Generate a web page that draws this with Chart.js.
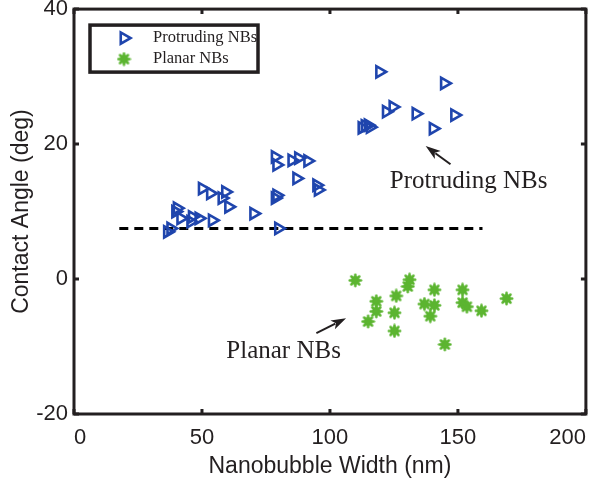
<!DOCTYPE html>
<html><head><meta charset="utf-8">
<script src="https://cdn.jsdelivr.net/npm/chart.js@4.4.0/dist/chart.umd.min.js"></script>
<style>html,body{margin:0;padding:0;background:#fff;}#wrap{width:595px;height:480px;position:relative;}</style>
</head><body><div id="wrap"><canvas id="c" width="595" height="480"></canvas></div>
<script>
// ---- data ----
const protrudingWidth = [36.5, 37.8, 39.7, 40.3, 41.7, 45.6, 46.2, 48.8, 54.0, 50.1, 53.3, 59.2, 57.8, 60.4, 70.2, 79.9, 79.2, 78.6, 79.2, 78.6, 85.1, 87.7, 91.3, 87.0, 94.8, 95.4, 119.4, 144.7, 124.6, 122.0, 133.6, 148.7, 140.3, 112.5, 113.7, 114.9, 115.7];
const protrudingAngle = [7.0, 7.5, 10.0, 10.5, 9.0, 8.5, 9.2, 9.0, 8.7, 13.4, 12.7, 12.9, 12.0, 10.7, 9.7, 7.5, 12.4, 12.0, 16.9, 18.1, 17.6, 17.9, 17.5, 14.9, 13.9, 13.2, 30.7, 29.0, 25.5, 24.8, 24.5, 24.3, 22.3, 22.4, 22.7, 22.8, 22.5];
const planarWidth = [109.9, 131.1, 130.4, 140.8, 151.8, 125.9, 118.1, 118.1, 125.2, 136.9, 140.8, 151.8, 153.5, 159.2, 169.0, 139.2, 114.9, 125.2, 144.9];
const planarAngle = [-0.2, -0.1, -1.1, -1.6, -1.6, -2.5, -3.3, -4.8, -5.0, -3.7, -3.9, -3.5, -4.1, -4.7, -2.9, -5.5, -6.3, -7.7, -9.7];
const thresholdWidth = [17.7, 159.6];
const thresholdAngle = [7.5, 7.5];
const xTicks = [0, 50, 100, 150, 200];
const yTicks = [-20, 0, 20, 40];
const seriesNames = ['Protruding NBs', 'Planar NBs'];
const xTitle = 'Nanobubble Width (nm)';
const yTitle = 'Contact Angle (deg)';
// annotation anchors in data units: [label, textX, textY, arrowTailX, arrowTailY, arrowTipX, arrowTipY]
const annoProtruding = ['Protruding NBs', 123.4, 14.4, 147.1, 17.0, 137.4, 19.7];
const annoPlanar = ['Planar NBs', 59.5, -10.8, 94.7, -8.0, 106.3, -5.8];

// ---- styles ----
const BLUE = '#1f45ad';
const GREEN = '#5cb531';
const INK = '#231f20';

function makeStar() {
  const c = document.createElement('canvas');
  c.width = 15; c.height = 15;
  const g = c.getContext('2d');
  g.fillStyle = GREEN; g.strokeStyle = GREEN;
  g.beginPath(); g.arc(7.5, 7.5, 4.4, 0, Math.PI * 2); g.fill();
  g.lineWidth = 2.6; g.lineCap = 'round';
  for (let k = 0; k < 4; k++) {
    const a = k * Math.PI / 4;
    g.beginPath();
    g.moveTo(7.5 - 5.6 * Math.cos(a), 7.5 - 5.6 * Math.sin(a));
    g.lineTo(7.5 + 5.6 * Math.cos(a), 7.5 + 5.6 * Math.sin(a));
    g.stroke();
  }
  return c;
}
const starImg = makeStar();

const toXY = (xs, ys) => xs.map((v, i) => ({x: v, y: ys[i]}));

function arrow(ctx, x0, y0, x1, y1) {
  const ang = Math.atan2(y1 - y0, x1 - x0);
  const hl = 15, hw = 5;
  ctx.strokeStyle = INK; ctx.fillStyle = INK; ctx.lineWidth = 2;
  ctx.beginPath();
  ctx.moveTo(x0, y0);
  ctx.lineTo(x1 - Math.cos(ang) * hl * 0.8, y1 - Math.sin(ang) * hl * 0.8);
  ctx.stroke();
  ctx.beginPath();
  ctx.moveTo(x1, y1);
  ctx.lineTo(x1 - Math.cos(ang) * hl - Math.sin(ang) * hw, y1 - Math.sin(ang) * hl + Math.cos(ang) * hw);
  ctx.lineTo(x1 - Math.cos(ang) * hl * 0.75, y1 - Math.sin(ang) * hl * 0.75);
  ctx.lineTo(x1 - Math.cos(ang) * hl + Math.sin(ang) * hw, y1 - Math.sin(ang) * hl - Math.cos(ang) * hw);
  ctx.closePath();
  ctx.fill();
}

const decor = {
  id: 'decor',
  afterDraw(chart) {
    const {ctx, chartArea: a, scales: {x, y}} = chart;
    ctx.save();
    // frame
    ctx.strokeStyle = INK; ctx.lineWidth = 3;
    ctx.strokeRect(a.left, a.top, a.right - a.left, a.bottom - a.top);
    const tl = 5;
    ctx.beginPath();
    xTicks.forEach(v => {
      const px = x.getPixelForValue(v);
      ctx.moveTo(px, a.bottom); ctx.lineTo(px, a.bottom - tl);
      ctx.moveTo(px, a.top); ctx.lineTo(px, a.top + tl);
    });
    yTicks.forEach(v => {
      const py = y.getPixelForValue(v);
      ctx.moveTo(a.left, py); ctx.lineTo(a.left + tl, py);
      ctx.moveTo(a.right, py); ctx.lineTo(a.right - tl, py);
    });
    ctx.stroke();
    // annotations
    [annoProtruding, annoPlanar].forEach(an => {
      ctx.fillStyle = INK;
      ctx.font = '25px "Liberation Serif", "Times New Roman", serif';
      ctx.textAlign = 'left'; ctx.textBaseline = 'middle';
      ctx.fillText(an[0], x.getPixelForValue(an[1]), y.getPixelForValue(an[2]));
      arrow(ctx, x.getPixelForValue(an[3]), y.getPixelForValue(an[4]), x.getPixelForValue(an[5]), y.getPixelForValue(an[6]));
    });
    // legend
    const bx = a.left + 16, by = a.top + 16, bw = 168, bh = 47;
    ctx.fillStyle = '#fff';
    ctx.fillRect(bx, by, bw, bh);
    ctx.strokeStyle = INK; ctx.lineWidth = 3.5;
    ctx.strokeRect(bx, by, bw, bh);
    const ds = chart.data.datasets;
    [0, 1].forEach((i, k) => {
      const d = ds[i];
      const cy = by + 13 + k * 21;
      ctx.strokeStyle = d.borderColor; ctx.fillStyle = d.backgroundColor;
      ctx.lineWidth = d.borderWidth;
      Chart.helpers.drawPoint(ctx, {pointStyle: d.pointStyle, rotation: d.rotation || 0, radius: d.pointRadius, borderWidth: d.borderWidth}, bx + 34, cy);
      ctx.fillStyle = INK;
      ctx.font = '16.5px "Liberation Serif", "Times New Roman", serif';
      ctx.textAlign = 'left'; ctx.textBaseline = 'middle';
      ctx.fillText(seriesNames[i], bx + 63, cy);
    });
    ctx.restore();
  }
};

new Chart(document.getElementById('c'), {
  type: 'scatter',
  data: {
    datasets: [
      {label: seriesNames[0], data: toXY(protrudingWidth, protrudingAngle), pointStyle: 'triangle', rotation: 90, pointRadius: 6.5, borderWidth: 2.6, borderColor: BLUE, backgroundColor: 'rgba(0,0,0,0)', pointHoverRadius: 6.5},
      {label: seriesNames[1], data: toXY(planarWidth, planarAngle), pointStyle: starImg, pointRadius: 6, borderWidth: 0, borderColor: GREEN, backgroundColor: GREEN},
      {label: 'threshold', data: toXY(thresholdWidth, thresholdAngle), showLine: true, pointRadius: 0, borderColor: '#000', borderWidth: 3, borderDash: [9, 6], fill: false}
    ]
  },
  options: {
    responsive: false, animation: false, devicePixelRatio: 1,
    layout: {padding: {top: 8, right: 6, left: 0, bottom: 0}},
    plugins: {legend: {display: false}, tooltip: {enabled: false}},
    scales: {
      x: {
        type: 'linear', min: 0, max: 200,
        afterBuildTicks: s => { s.ticks = xTicks.map(v => ({value: v})); },
        afterFit: s => { s.height = 66; s.paddingLeft = 0; s.paddingRight = 0; },
        grid: {display: false, drawTicks: false},
        border: {display: false},
        ticks: {align: 'inner', maxRotation: 0, padding: 11, color: INK, font: {family: '"Liberation Sans", Arial, sans-serif', size: 22}},
        title: {display: true, text: xTitle, color: INK, font: {family: '"Liberation Sans", Arial, sans-serif', size: 23}, padding: {top: 0, bottom: 0}}
      },
      y: {
        type: 'linear', min: -20, max: 40,
        afterBuildTicks: s => { s.ticks = yTicks.map(v => ({value: v})); },
        afterFit: s => { s.width = 74; s.paddingTop = 0; s.paddingBottom = 0; },
        grid: {display: false, drawTicks: false},
        border: {display: false},
        ticks: {padding: 6, color: INK, font: {family: '"Liberation Sans", Arial, sans-serif', size: 22}},
        title: {display: true, text: yTitle, color: INK, font: {family: '"Liberation Sans", Arial, sans-serif', size: 23}, padding: {top: 8, bottom: 0}}
      }
    }
  },
  plugins: [decor]
});
</script></body></html>
